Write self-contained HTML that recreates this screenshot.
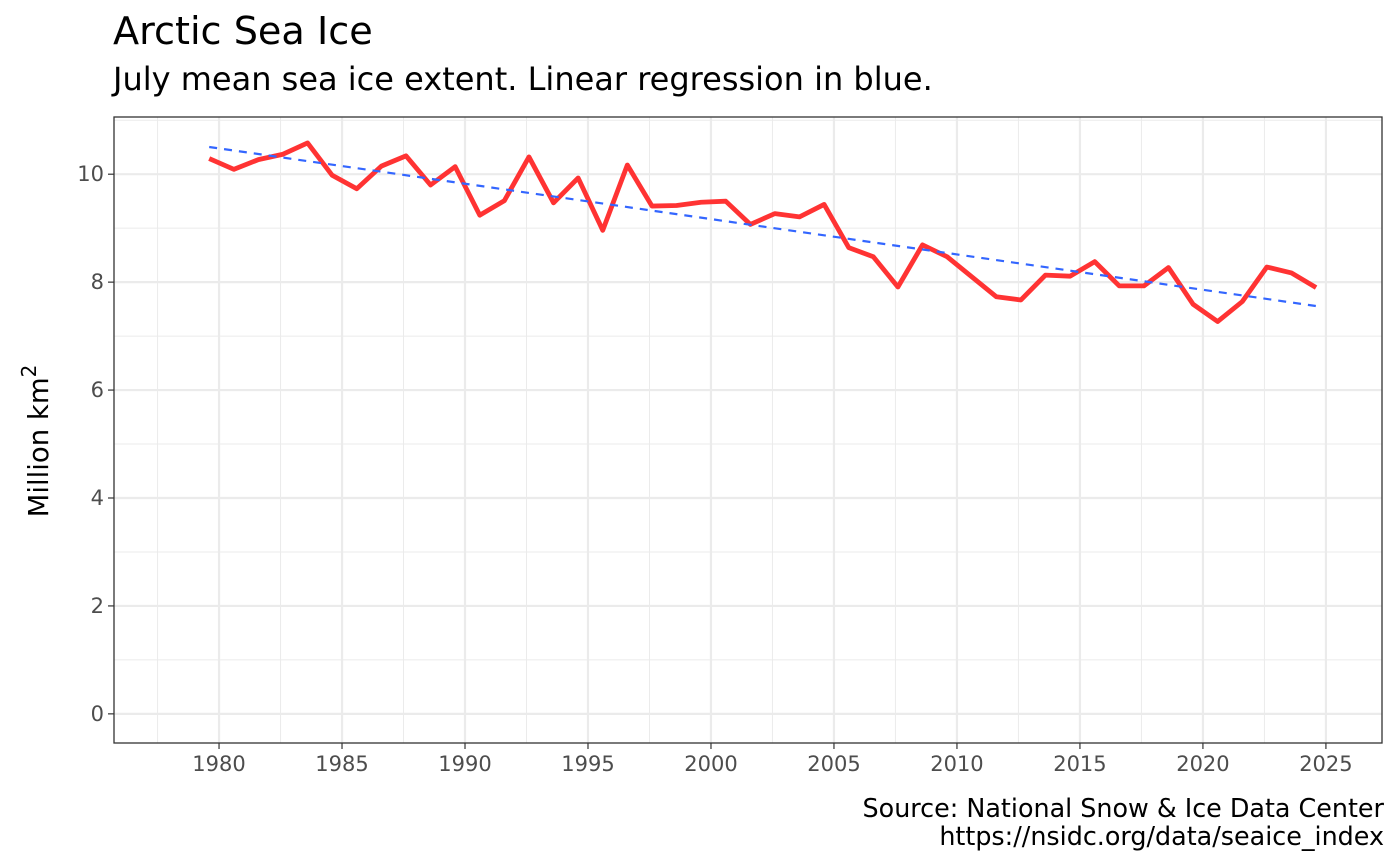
<!DOCTYPE html>
<html><head><meta charset="utf-8"><style>
body{margin:0;background:#fff;}
svg{display:block;font-family:"DejaVu Sans","Liberation Sans",sans-serif;}
</style></head><body>
<svg id="chart" width="1400" height="866" viewBox="0 0 1400 866">
<text x="113" y="44" font-size="38.2" fill="#000">Arctic Sea Ice</text>
<text x="113" y="90" font-size="32" fill="#000">July mean sea ice extent. Linear regression in blue.</text>
<g id="grid"></g>
<g id="marks"></g>
<rect x="114" y="117" width="1268" height="626" fill="none" stroke="#333" stroke-width="1.3"/>
<g id="axes"></g>
<text transform="translate(48,441) rotate(-90)" text-anchor="middle" font-size="27.5" fill="#000">Million km<tspan dy="-12" font-size="20">2</tspan></text>
<text x="1384" y="817" text-anchor="end" font-size="25.4" fill="#000">Source: National Snow &amp; Ice Data Center</text>
<text x="1384" y="845" text-anchor="end" font-size="25.4" fill="#000">https://nsidc.org/data/seaice_index</text>
</svg>
<script>
const years = [1979,1980,1981,1982,1983,1984,1985,1986,1987,1988,1989,1990,1991,1992,1993,1994,1995,1996,1997,1998,1999,2000,2001,2002,2003,2004,2005,2006,2007,2008,2009,2010,2011,2012,2013,2014,2015,2016,2017,2018,2019,2020,2021,2022,2023,2024];
const extent = [10.29,10.09,10.27,10.37,10.58,9.98,9.73,10.15,10.34,9.80,10.14,9.24,9.51,10.32,9.47,9.93,8.96,10.17,9.41,9.42,9.48,9.50,9.07,9.27,9.21,9.44,8.64,8.47,7.91,8.69,8.47,8.10,7.73,7.67,8.13,8.11,8.38,7.93,7.93,8.27,7.59,7.27,7.64,8.28,8.17,7.90];
const xTicks = [1980,1985,1990,1995,2000,2005,2010,2015,2020,2025];
const yTicks = [0,2,4,6,8,10];

const NS='http://www.w3.org/2000/svg';
const X0=114,X1=1382,Y0=117,Y1=743;
const xMin=1975.73,xMax=2027.28,yMin=-0.54,yMax=11.06;
const xs=v=>X0+(v-xMin)/(xMax-xMin)*(X1-X0);
const ys=v=>Y1-(v-yMin)/(yMax-yMin)*(Y1-Y0);
const off=0.6;
function mk(tag,attrs,parent){const e=document.createElementNS(NS,tag);for(const k in attrs)e.setAttribute(k,attrs[k]);parent.appendChild(e);return e;}
const grid=document.getElementById('grid'),marks=document.getElementById('marks'),axes=document.getElementById('axes');
mk('rect',{x:X0,y:Y0,width:X1-X0,height:Y1-Y0,fill:'#fff'},grid);
for(let i=0;i<xTicks.length+1;i++){const v=xTicks[0]-2.5+i*5;if(v<xMin||v>xMax)continue;
 const l=mk('line',{x1:xs(v),x2:xs(v),y1:Y0,y2:Y1,stroke:'#ebebeb','stroke-width':1},grid);
 
 }
for(let i=0;i<yTicks.length;i++){const v=yTicks[i]+1;
 const l=mk('line',{x1:X0,x2:X1,y1:ys(v),y2:ys(v),stroke:'#ebebeb','stroke-width':1},grid);
 
 }
xTicks.forEach(v=>{
 const l=mk('line',{x1:xs(v),x2:xs(v),y1:Y0,y2:Y1,stroke:'#ebebeb','stroke-width':2.2},grid);
 
 
 const t=mk('line',{x1:xs(v),x2:xs(v),y1:Y1,y2:Y1+6,stroke:'#333','stroke-width':1.2},axes);
 
 
 const tx=mk('text',{x:xs(v),y:Y1+28,'text-anchor':'middle','font-size':21,fill:'#4d4d4d'},axes);
 tx.textContent=v;
 
 
});
yTicks.forEach(v=>{
 const l=mk('line',{x1:X0,x2:X1,y1:ys(v),y2:ys(v),stroke:'#ebebeb','stroke-width':2.2},grid);
 
 
 const t=mk('line',{x1:X0-6,x2:X0,y1:ys(v),y2:ys(v),stroke:'#333','stroke-width':1.2},axes);
 
 
 const tx=mk('text',{x:X0-10,y:ys(v)+7,'text-anchor':'end','font-size':21,fill:'#4d4d4d'},axes);
 tx.textContent=v;
 
 
});
const n=years.length;let sx=0,sy=0,sxx=0,sxy=0;
for(let i=0;i<n;i++){sx+=years[i];sy+=extent[i];sxx+=years[i]*years[i];sxy+=years[i]*extent[i];}
const b=(n*sxy-sx*sy)/(n*sxx-sx*sx),a=(sy-b*sx)/n;
const ya=years[0],yb=years[n-1];
const pts=years.map((y,i)=>xs(y+off)+','+ys(extent[i])).join(' ');
const red=mk('polyline',{points:pts,fill:'none',stroke:'#ff3333','stroke-width':4.8,'stroke-linejoin':'round'},marks);


const reg=mk('line',{x1:xs(ya+off),y1:ys(a+b*ya),x2:xs(yb+off),y2:ys(a+b*yb),stroke:'#3366ff','stroke-width':2.2,'stroke-dasharray':'8,7'},marks);


</script>
</body></html>
